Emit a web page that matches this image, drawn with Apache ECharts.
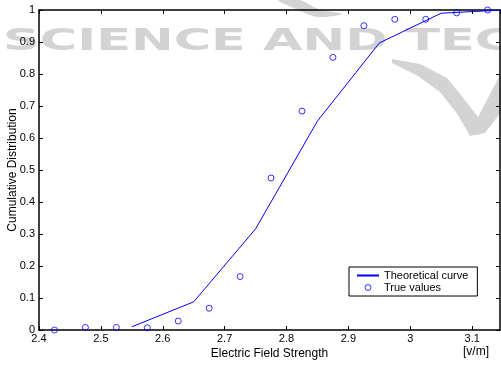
<!DOCTYPE html>
<html>
<head>
<meta charset="utf-8">
<script src="https://cdn.jsdelivr.net/npm/echarts@6/dist/echarts.min.js"></script>
<style>
  html, body { margin: 0; padding: 0; background: #fff; }
  #chart { width: 501px; height: 367px; }
</style>
</head>
<body>
<div id="chart"></div>
<script>
// theoretical CDF (polyline)
const curveX = [2.55, 2.65, 2.75, 2.85, 2.95, 3.05, 3.15];
const curveY = [0.01, 0.088, 0.316, 0.653, 0.897, 0.99, 1.0];

// measured points
const trueX = [2.425, 2.475, 2.525, 2.575, 2.625, 2.675, 2.725, 2.775, 2.825, 2.875, 2.925, 2.975, 3.025, 3.075, 3.125];
const trueY = [0.0, 0.008, 0.008, 0.007, 0.028, 0.068, 0.167, 0.475, 0.684, 0.852, 0.951, 0.971, 0.971, 0.991, 1.0];

const xTicks = [2.4, 2.5, 2.6, 2.7, 2.8, 2.9, 3.0, 3.1];

const font = 'Liberation Sans, Arial, sans-serif';
const gray = '#d3d3d3';

const chart = echarts.init(document.getElementById('chart'));

const axisBase = {
    type: 'value',
    axisLine: { show: true, onZero: false, lineStyle: { color: '#000', width: 1.5 } },
    axisTick: { show: true, inside: true, length: 4, lineStyle: { color: '#000', width: 1 } },
    splitLine: { show: false }
};

chart.setOption({
    animation: false,
    backgroundColor: '#fff',
    grid: { left: 39, right: 1, top: 10, bottom: 37, containLabel: false, outerBoundsMode: 'none' },
    graphic: [
        // faint watermark behind the plot
        { type: 'text', z: -10, x: 3, y: 27, scaleX: 1.7,
          style: { text: 'SCIENCE', font: 'bold 30px DejaVu Sans', fill: gray } },
        { type: 'text', z: -10, x: 263, y: 27, scaleX: 1.7,
          style: { text: 'AND TECHNOLOGY', font: 'bold 30px DejaVu Sans', fill: gray } },
        { type: 'polygon', z: -10,
          shape: { points: [[278, 0], [300, 0], [318, 9], [342, 14], [318, 17], [298, 10]], smooth: 0.3 },
          style: { fill: gray } },
        { type: 'polygon', z: -10,
          shape: { points: [[392, 59], [420, 64], [447, 78], [468, 104], [478, 117], [501, 73], [501, 112],
                            [485, 133], [470, 136], [458, 115], [440, 92], [418, 76], [392, 63]] },
          style: { fill: gray } },
        { type: 'text', x: 463, y: 346,
          style: { text: '[v/m]', font: '12px ' + font, fill: '#000' } }
    ],
    legend: {
        orient: 'vertical',
        left: 349, top: 267,
        padding: [3, 9, 3, 7],
        itemGap: 1,
        itemWidth: 22, itemHeight: 6,
        backgroundColor: '#fff',
        borderColor: '#000', borderWidth: 1, borderRadius: 0,
        textStyle: { fontFamily: font, fontSize: 11, color: '#000' },
        data: [
            { name: 'Theoretical curve', itemStyle: { opacity: 0 } },
            { name: 'True values', icon: 'circle',
              itemStyle: { color: 'transparent', borderColor: '#0000ff', borderWidth: 1 } }
        ]
    },
    xAxis: [
        Object.assign({}, axisBase, {
            min: 2.4, max: 3.145, interval: 0.1, position: 'bottom',
            name: 'Electric Field Strength', nameLocation: 'middle', nameGap: 18,
            nameMoveOverlap: false,
            nameTextStyle: { fontFamily: font, fontSize: 12, color: '#000' },
            axisLabel: { show: true, margin: 3, color: '#000', fontFamily: font, fontSize: 11,
                showMaxLabel: false,
                formatter: v => {
                    const t = xTicks.find(k => Math.abs(k - v) < 1e-6);
                    return t === undefined ? '' : String(t);
                } }
        }),
        Object.assign({}, axisBase, {
            min: 2.4, max: 3.145, interval: 0.1, position: 'top',
            axisLabel: { show: false }
        })
    ],
    yAxis: [
        Object.assign({}, axisBase, {
            min: 0, max: 1, interval: 0.1, position: 'left',
            name: 'Cumulative Distribution', nameLocation: 'middle', nameGap: 20,
            nameMoveOverlap: false,
            nameTextStyle: { fontFamily: font, fontSize: 12, color: '#000' },
            axisLabel: { show: true, margin: 4, color: '#000', fontFamily: font, fontSize: 11,
                formatter: v => String(Math.round(v * 10) / 10) }
        }),
        Object.assign({}, axisBase, {
            min: 0, max: 1, interval: 0.1, position: 'right',
            axisLabel: { show: false }
        })
    ],
    series: [
        {
            name: 'Theoretical curve',
            type: 'line',
            data: curveX.map((x, i) => [x, curveY[i]]),
            symbol: 'none',
            clip: true,
            lineStyle: { color: '#0000ff', width: 1 },
            itemStyle: { color: '#0000ff' }
        },
        {
            name: 'True values',
            type: 'scatter',
            data: trueX.map((x, i) => [x, trueY[i]]),
            symbol: 'circle',
            symbolSize: 6,
            clip: false,
            itemStyle: { color: 'transparent', borderColor: '#0000ff', borderWidth: 1 }
        }
    ]
});
</script>
</body>
</html>
